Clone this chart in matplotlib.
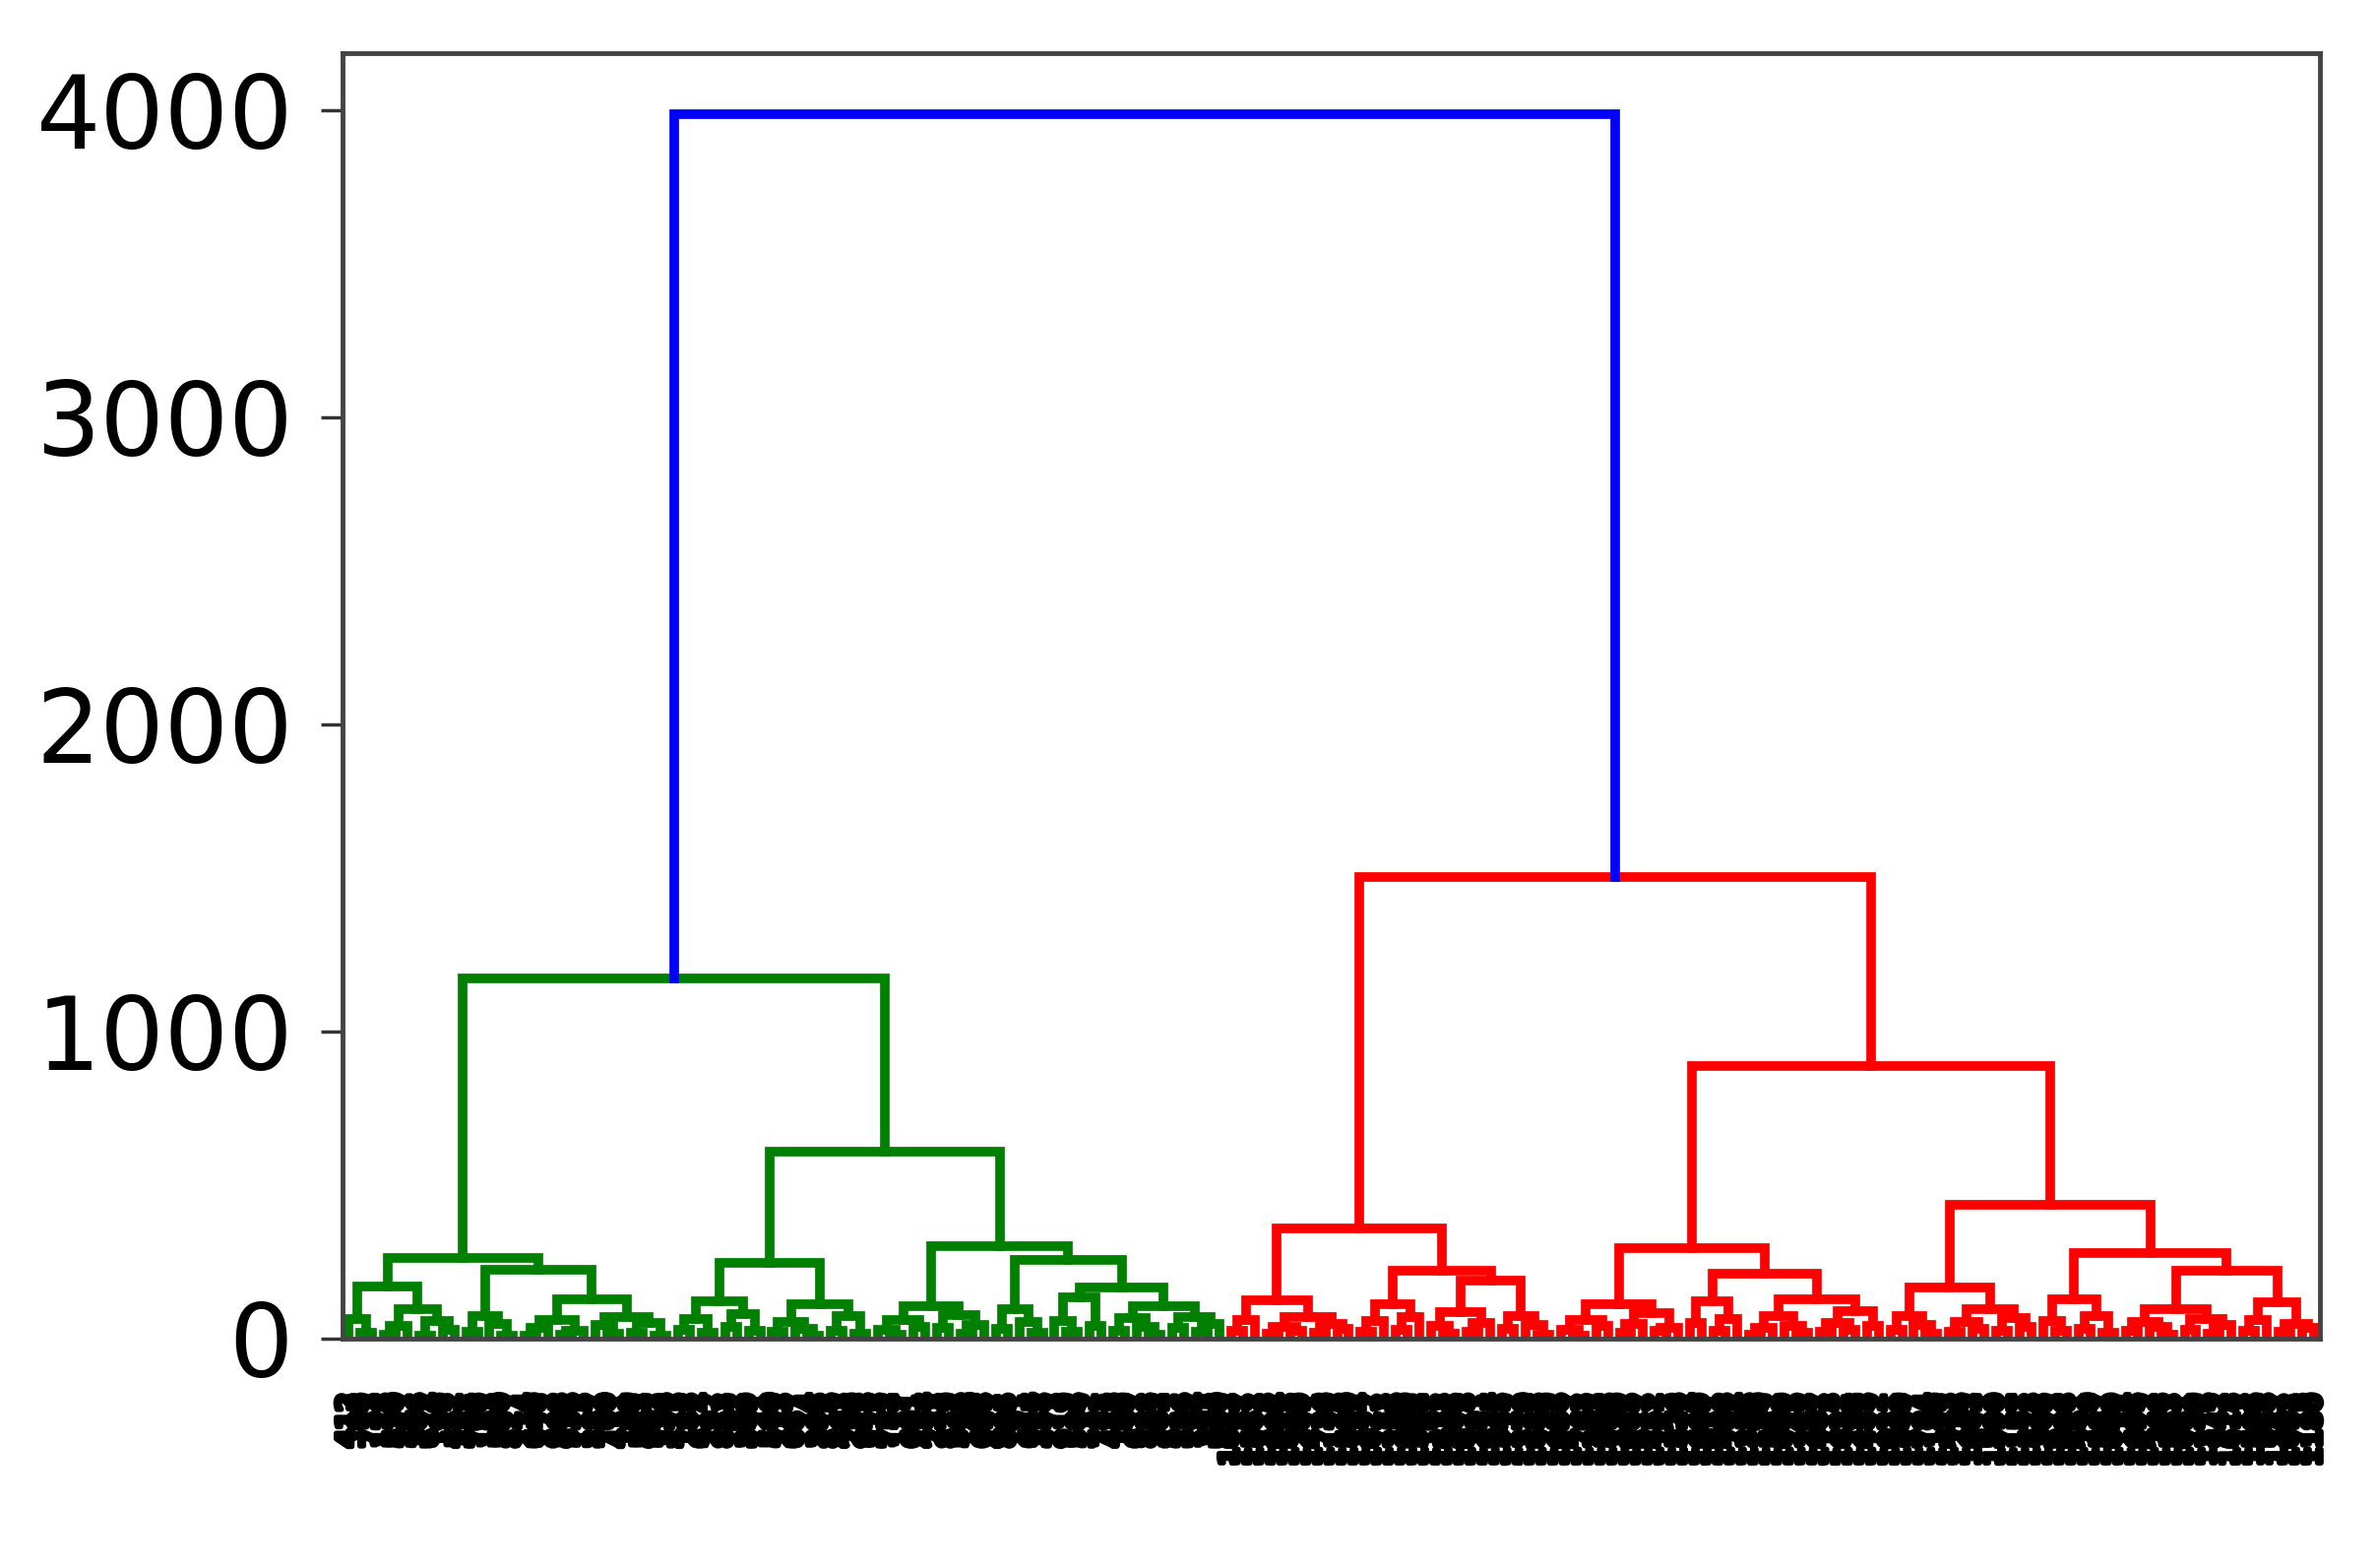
import matplotlib
matplotlib.use('Agg')
import matplotlib.pyplot as plt
import matplotlib.patheffects as pe

# leaf clusters: (merge height, left, right), ints are sample ids
A1 = (64, 412, (18, 95, 733))
A2 = (96, (41, (12, 128, 530), 247), (58, (9, 306, 674), (30, 199, 452)))
A3 = (74, (22, 381, 705), (47, 163, (11, 590, 827)))
A4 = (60, (35, (8, 214, 649), 372), (27, (13, 508, 936), 115))
A5 = (70, (44, 287, (16, 760, 431)), (52, (20, 149, 583), (10, 902, 336)))
A6 = (123, (63, (28, 475, 188), (19, 614, 297)), (81, (37, 853, 102), (24, 369, 721)))
A7 = (113, (55, (21, 540, 233), (33, 687, (9, 174, 395))), (72, (26, 816, 463), (15, 259, 948)))
A8 = (105, (61, (29, 318, (12, 752, 137)), (38, 601, 484)), (77, (34, 223, 879), (46, (17, 566, 140), 698)))
A9 = (96, (31, 427, 805), (53, 191, (18, 644, 358)))
A10 = (135, (58, 273, (22, 919, 506)), (40, 132, 781))
A11 = (105, (66, (27, 445, 169), (39, 627, (13, 888, 302))), (71, (36, 517, 256), (48, (21, 794, 393), 660)))

B1 = (60, (24, 1043, 1187), 1562)
B2 = (70, (38, (15, 1318, 1094), (26, 1655, 1209)), (49, (19, 1471, 1736), (31, 1128, 1590)))
B3 = (112, (57, (23, 1384, 1027), 1713), (69, (28, 1256, 1649), 1502))
B4 = (85, (42, 1167, (16, 1433, 1805)), (50, (22, 1078, 1291), 1624))
B5 = (75, (33, 1545, 1112), (45, 1370, (14, 1688, 1239)))
B6 = (113, (62, (30, 1056, (11, 1417, 1763)), (41, 1203, 1598)), (84, (47, (20, 1339, 1085), 1677), (36, (25, 1452, 1141), 1526)))
B7 = (123, (52, 1274, 1609), (64, (27, 1031, 1498), 1724))
B8 = (128, (74, (35, (14, 1356, 1190), 1582), (43, 1069, (18, 1745, 1263))), (89, (51, (23, 1407, 1118), (30, 1631, 1295)), (40, 1488, 1172)))
B9 = (74, (29, 1021, 1569), (46, 1327, (17, 1784, 1149)))
B10 = (96, (54, (21, 1443, 1236), (32, 1602, 977)), (67, (26, 1390, 1711), (39, 1157, 1528)))
B11 = (128, (59, 1305, (24, 1673, 1098)), (72, (33, 1461, 1220), (19, 1587, 1049)))
B12 = (96, (55, (25, 1134, 1696), (37, 1412, (13, 1268, 1553))), (63, (28, 1081, 1739), (44, (16, 1376, 942), 1618)))
B13 = (118, (61, (27, 1213, 1506), 968), (48, (22, 1347, 1092), (34, 1775, 1180)))

# upper merges
green = (1174, (262, (170, A1, A2), (224, A3, (128, A4, A5))),
         (607, (247, A6, A7), (300, A8, (256, A9, (166, A10, A11)))))
red = (1504, (360, (125, B1, B2), (222, B3, (190, B4, B5))),
       (888, (296, B6, (210, B7, B8)),
        (434, (166, B9, B10), (280, B11, (220, B12, B13)))))
root = (3985, green, red)

fig = plt.figure(figsize=(24.15, 15.93), dpi=100)
ax = fig.add_axes([0.1441, 0.1463, 0.976 - 0.1441, 0.9661 - 0.1463])

leaves = []

def draw(node, color):
    if isinstance(node, int):
        x = 5 + 10 * len(leaves)
        leaves.append(node)
        return x, 0
    h, left, right = node
    xl, hl = draw(left, color)
    xr, hr = draw(right, color)
    ax.plot([xl, xl, xr, xr], [hl, h, h, hr], color=color, lw=7,
            solid_joinstyle='miter')
    return (xl + xr) / 2, h

xg, hg = draw(green, 'g')
xr, hr = draw(red, 'r')
ax.plot([xg, xg, xr, xr], [hg, root[0], root[0], hr], color='b', lw=7,
        solid_joinstyle='miter')

n = len(leaves)
ax.set_xlim(0, 10 * n)
ax.set_ylim(0, root[0] * 1.05)
ax.set_xticks([5 + 10 * i for i in range(n)])
labels = ax.set_xticklabels([str(v) for v in leaves], rotation=90,
                            fontsize=19, fontweight='bold')
for t in labels:
    t.set_path_effects([pe.withStroke(linewidth=4, foreground='black')])
ax.tick_params(axis='x', length=0, pad=40)
ax.set_yticks([0, 1000, 2000, 3000, 4000])
ax.tick_params(axis='y', labelsize=74, length=16, width=2.5, pad=20,
               color='#333333')
for s in ax.spines.values():
    s.set_linewidth(3.5)
    s.set_color('#444444')

fig.savefig('out.png', dpi=100)
